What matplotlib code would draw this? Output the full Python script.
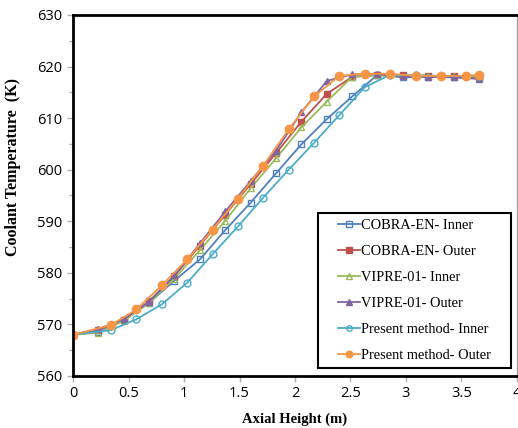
import matplotlib
matplotlib.use("Agg")
import matplotlib.pyplot as plt
from matplotlib.patches import Rectangle

# node positions (m)
x_cobra = [0, 0.229, 0.457, 0.686, 0.914, 1.143, 1.372, 1.6, 1.829, 2.057,
           2.286, 2.515, 2.743, 2.972, 3.2, 3.429, 3.658]
x_present = [0, 0.343, 0.571, 0.8, 1.029, 1.257, 1.486, 1.714, 1.943, 2.171,
             2.4, 2.629, 2.857, 3.086, 3.314, 3.543, 3.658]

cobra_inner = [568, 568.6, 570.8, 574.2, 578.5, 582.6, 588.3, 593.6, 599.3, 604.9,
               609.8, 614.2, 618.4, 617.9, 618.0, 618.0, 617.8]
cobra_outer = [568, 569.0, 570.9, 574.5, 579.4, 585.3, 591.3, 597.2, 603.2, 609.3,
               614.7, 618.0, 618.4, 618.3, 618.2, 618.1, 618.0]
vipre_inner = [568, 568.4, 570.7, 574.2, 578.9, 584.4, 590.1, 596.4, 602.2, 608.2,
               613.2, 618.0, 618.3, 618.2, 618.2, 618.1, 618.0]
vipre_outer = [568, 569.1, 571.0, 574.4, 579.5, 585.7, 591.9, 597.8, 603.7, 611.1,
               617.2, 618.5, 618.5, 618.2, 618.0, 617.9, 617.6]
present_inner = [568, 568.9, 571.0, 573.9, 578.1, 583.6, 589.0, 594.6, 600.0, 605.2,
                 610.6, 616.0, 618.4, 618.3, 618.2, 618.2, 618.2]
present_outer = [568, 569.9, 572.9, 577.6, 582.6, 588.4, 594.4, 600.8, 607.8, 614.2,
                 618.2, 618.6, 618.6, 618.2, 618.2, 618.2, 618.4]

W, H = 518, 428
fig = plt.figure(figsize=(W / 100, H / 100), dpi=100)
ax = fig.add_axes([0.141, 0.1215, 0.857, 0.8435])

ms = 5
ax.plot(x_cobra, cobra_inner, color="#4F81BD", marker="s", mfc="none", ms=ms, lw=1.3, label="COBRA-EN- Inner")
ax.plot(x_cobra, cobra_outer, color="#C0504D", marker="s", ms=ms, lw=1.3, label="COBRA-EN- Outer")
ax.plot(x_cobra, vipre_inner, color="#9BBB59", marker="^", mfc="none", ms=ms, lw=1.3, label="VIPRE-01- Inner")
ax.plot(x_cobra, vipre_outer, color="#8064A2", marker="^", ms=ms, lw=1.3, label="VIPRE-01- Outer")
ax.plot(x_present, present_inner, color="#4BACC6", marker="o", mfc="none", ms=ms, lw=1.3, label="Present method- Inner")
ax.plot(x_present, present_outer, color="#F79646", marker="o", ms=ms + 1, lw=1.3, label="Present method- Outer")

ax.set_xlim(0, 4)
ax.set_ylim(560, 630)
ax.set_xticks([0, 0.5, 1, 1.5, 2, 2.5, 3, 3.5, 4])
ax.set_xticklabels(["0", "0.5", "1", "1.5", "2", "2.5", "3", "3.5", "4"])
ax.set_yticks(range(560, 631, 10))
ax.set_yticks(range(565, 630, 10), minor=True)
ax.tick_params(axis="both", which="both", direction="out", color="#b0b0b0",
               labelsize=10.5, length=4, width=1)
ax.tick_params(axis="y", which="minor", length=3)

for s in ["left", "bottom", "top"]:
    ax.spines[s].set_linewidth(2)
    ax.spines[s].set_color("black")
ax.spines["right"].set_linewidth(1)
ax.spines["right"].set_color("#a0a0a0")

for lab in ax.get_xticklabels() + ax.get_yticklabels():
    lab.set_family("Open Sans")

ax.set_xlabel("Axial Height (m)", family="Liberation Serif", fontweight="bold", fontsize=10.5, labelpad=8)
ax.set_ylabel("Coolant Temperature  (K)", family="Liberation Serif", fontweight="bold", fontsize=11.5)
ax.yaxis.set_label_coords(-0.118, 0.579)

# legend: right edge of text ~491px, bottom of last row ~362px
leg = ax.legend(loc="lower right", bbox_to_anchor=(491 / W, 1 - 362 / H),
                bbox_transform=fig.transFigure, frameon=False, borderaxespad=0,
                prop={"family": "Liberation Serif", "size": 10.35},
                handlelength=1.5, labelspacing=0.9, borderpad=0.0, handletextpad=0.1,
                markerscale=0.8)

# legend box drawn separately: wider horizontal padding than vertical
fig.canvas.draw()
bb = leg.get_window_extent().transformed(fig.transFigure.inverted())
padx, pady = 20 / W, 6 / H
fig.add_artist(Rectangle((bb.x0 - padx, bb.y0 - pady), bb.width + 2 * padx, bb.height + 2 * pady,
                         transform=fig.transFigure, facecolor="none", edgecolor="black",
                         linewidth=1.5, zorder=5))

fig.savefig("out.png", dpi=100)
